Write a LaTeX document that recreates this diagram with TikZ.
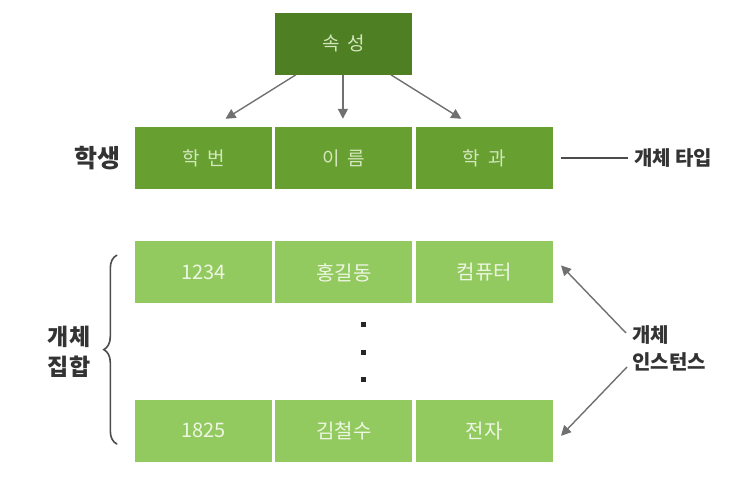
\documentclass[tikz,border=0pt]{standalone}
\usepackage{fontspec}
\setmainfont{Noto Sans CJK KR}
\newfontfamily\cellfont[WordSpace=1.8]{Noto Sans CJK KR}
\usepackage{tikz}
\usetikzlibrary{arrows.meta, positioning, calc, decorations.pathreplacing}
\definecolor{gdark}{HTML}{4E7F22}
\definecolor{gmid}{HTML}{67A030}
\definecolor{glight}{HTML}{93CA5F}
\definecolor{gtext}{HTML}{D4E6BE}
\definecolor{ltext}{HTML}{EDF6E3}
\definecolor{ink}{HTML}{333333}
\definecolor{wire}{HTML}{707070}
\tikzset{
  cell/.style={rectangle, draw=none, minimum width=137pt, minimum height=62pt,
               inner sep=0pt, align=center,
               font=\cellfont\fontsize{19}{22}\selectfont},
  attr/.style={cell, fill=gmid, text=gtext},
  head/.style={cell, fill=gdark, text=gtext},
  rec/.style={cell, fill=glight, text=ltext, font=\fontsize{20}{22}\selectfont},
  tag/.style={text=ink, inner sep=0pt, align=left, font=\bfseries\fontsize{20}{27}\selectfont},
  blip/.style={rectangle, fill=black!85, minimum size=5pt, inner sep=0pt},
  flow/.style={-{Triangle[length=10pt, width=10pt]}, draw=wire, line width=1.4pt},
  curly/.style={decorate, decoration={brace, amplitude=13pt}, draw=black!70,
                line width=1.6pt, line cap=round}
}

\begin{document}
\begin{tikzpicture}[x=1pt, y=1pt]
  \useasboundingbox (0,0) rectangle (751,486);

  % entity type row
  \node[attr] (hb) at (203.5,328) {학 번};
  \node[attr, right=3pt of hb] (nm) {이 름};
  \node[attr, right=3pt of nm] (dp) {학 과};
  \node[head, above=52pt of nm] (sok) {속 성};
  \node[tag, left=14pt of hb, font=\bfseries\fontsize{25}{28}\selectfont] (stu) {학생};
  \node[tag, right=75pt of dp, inner sep=6pt] (typ) {개체 타입};

  % instances
  \node[rec, below=52pt of hb] (r1a) {1234};
  \node[rec, right=3pt of r1a] (r1b) {홍길동};
  \node[rec, right=3pt of r1b] (r1c) {컴퓨터};
  \node[rec, below=96pt of r1a] (r2a) {1825};
  \node[rec, right=3pt of r2a] (r2b) {김철수};
  \node[rec, right=3pt of r2b] (r2c) {전자};
  \foreach \i/\dy in {1/21, 2/49, 3/76}
    \node[blip] (dot\i) at ($(r1b.south)+(20pt,-\dy pt)$) {};

  \node[tag, font=\bfseries\fontsize{23}{30}\selectfont] (set) at (69,134) {개체\\집합};
  \node[tag, anchor=west] (inst) at (632,138) {개체\\인스턴스};

  % connectors
  \draw[flow] ([xshift=-48pt]sok.south) -- ([xshift=22pt,yshift=8pt]hb.north);
  \draw[flow] ([xshift=-1pt]sok.south) -- ([xshift=-1pt,yshift=8pt]nm.north);
  \draw[flow] ([xshift=47pt]sok.south) -- ([xshift=-23pt,yshift=8pt]dp.north);
  \draw[draw=black!70, line width=1.2pt] ([xshift=8pt]dp.east) -- (typ.west);
  \draw[flow] ($(inst.west)+(-6pt,15pt)$) -- ($(r1c.east)+(8pt,7pt)$);
  \draw[flow] ($(inst.west)+(-5pt,-19pt)$) -- ($(r2c.east)+(8pt,-5pt)$);
  \draw[curly] ($(r2a.south west)+(-18pt,18pt)$) -- ($(r1a.north west)+(-18pt,-14pt)$);
\end{tikzpicture}
\end{document}
